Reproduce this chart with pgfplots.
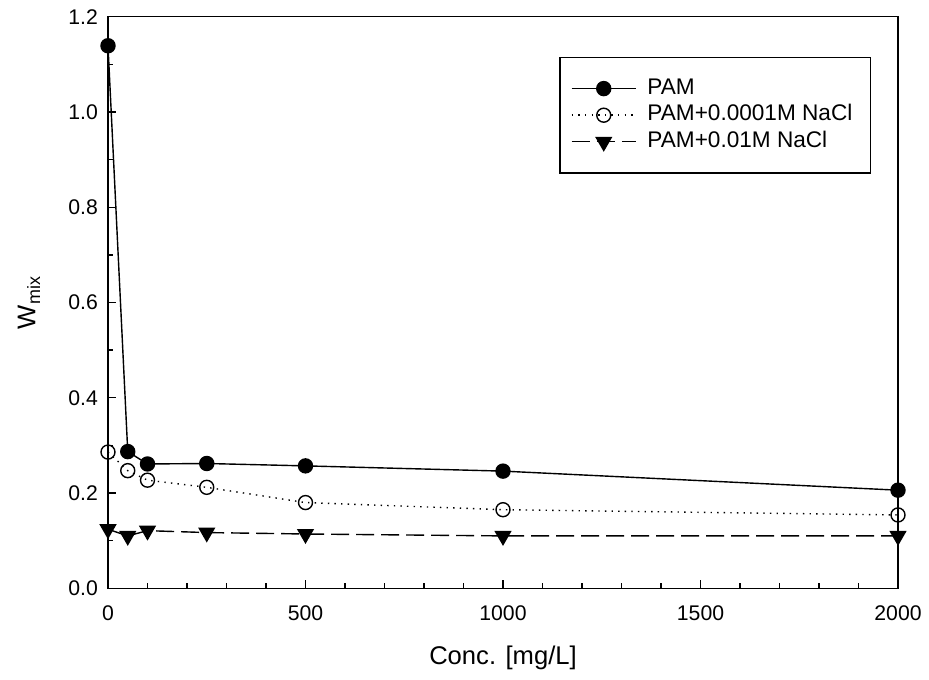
\documentclass[border=0pt]{standalone}
\usepackage{pgfplots}
\pgfplotsset{compat=1.18}
\usepackage{fontspec}
\setmainfont{Liberation Sans}
\begin{document}
\begin{tikzpicture}
\begin{axis}[
  scale only axis,
  width=395pt, height=285.8pt,
  xmin=0, xmax=2000, ymin=0, ymax=1.2,
  xtick={0,500,1000,1500,2000},
  ytick={0,0.2,0.4,0.6,0.8,1.0,1.2},
  minor xtick={100,200,...,1900},
  minor ytick={0.1,0.3,...,1.1},
  tick label style={font=\fontsize{10.6}{12}\selectfont},
  yticklabel style={/pgf/number format/fixed,/pgf/number format/fixed zerofill,/pgf/number format/precision=1, xshift=-1.5pt},
  xticklabel style={/pgf/number format/set thousands separator={}, yshift=-5pt},
  /pgf/number format/assume math mode=true,
  tick align=inside,
  xtick pos=left, ytick pos=left,
  major tick length=4pt, minor tick length=2.5pt,
  tick style={black, line width=0.7pt},
  axis line style={line width=0.7pt},
  font=\fontsize{11.2}{13}\selectfont,
  xlabel={Conc. [mg/L]},
  ylabel={W\textsubscript{mix}},
  label style={font=\fontsize{12.8}{14}\selectfont},
  xlabel style={at={(axis description cs:0.5,0)}, anchor=center, yshift=-35pt},
  ylabel style={at={(axis description cs:-0.1,0.5)}, anchor=center},
  legend style={at={(axis description cs:1,1)}, anchor=north east,
    xshift=-13.5pt, yshift=-20pt, draw=black, line width=0.6pt,
    inner xsep=5.5pt, inner ysep=9pt, row sep=0pt, column sep=2pt,
    nodes={inner xsep=3.5pt, inner ysep=2pt, text height=7.5pt, text depth=1.8pt},
    font=\fontsize{11.3}{13}\selectfont},
  legend cell align=left,
  legend image code/.code={\draw[mark repeat=2,mark phase=2,#1] plot coordinates {(0pt,0pt)(16pt,0pt)(32pt,0pt)};},
]
\addplot[black, line width=0.7pt, mark=*, mark size=3.5pt, mark options={solid, fill=black}]
  coordinates {(0,1.139)(50,0.287)(100,0.261)(250,0.262)(500,0.257)(1000,0.246)(2000,0.206)};
\addlegendentry{PAM}
\addplot[black, line width=0.7pt, dash pattern=on 0.7pt off 2.6pt, mark=o, mark size=3.5pt, mark options={solid, fill=white, line width=0.7pt}]
  coordinates {(0,0.286)(50,0.247)(100,0.227)(250,0.212)(500,0.180)(1000,0.165)(2000,0.154)};
\addlegendentry{PAM+0.0001M NaCl}
\addplot[black, line width=0.7pt, dash pattern=on 9pt off 3.5pt, mark=triangle*, mark size=4.3pt, mark options={solid, fill=black, rotate=180}]
  coordinates {(0,0.124)(50,0.110)(100,0.121)(250,0.117)(500,0.114)(1000,0.110)(2000,0.110)};
\addlegendentry{PAM+0.01M NaCl}
\end{axis}
\pgfresetboundingbox
\path[use as bounding box] (current axis.south west) ++(-54pt,-45.35pt) rectangle ++(464.5pt,339.5pt);
\end{tikzpicture}
\end{document}
